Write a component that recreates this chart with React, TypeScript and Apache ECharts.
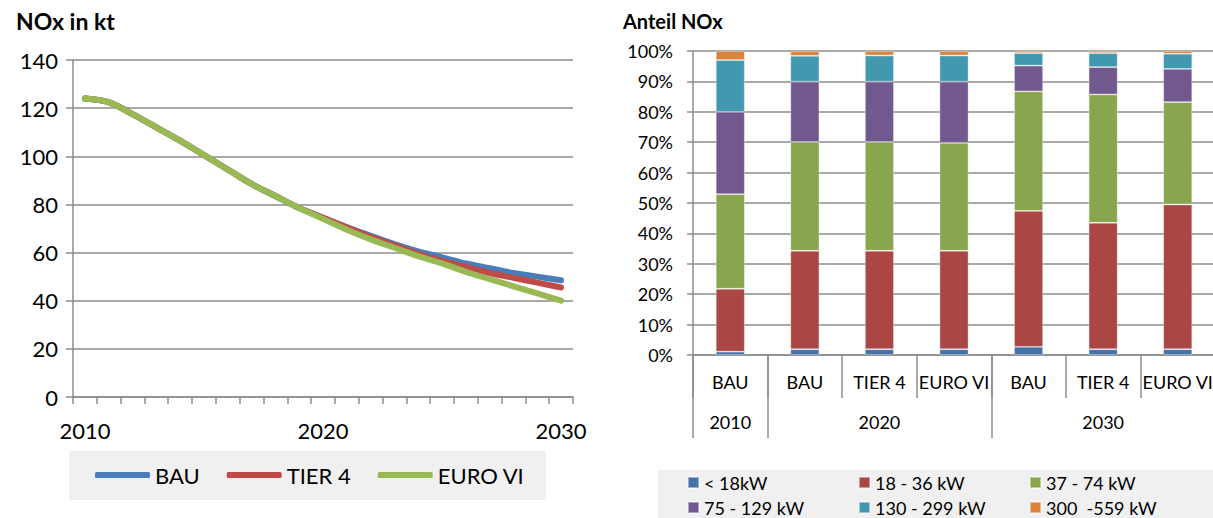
import React, { useEffect, useRef } from "react";
import * as echarts from "echarts";

const years = ["2010","2011","2012","2013","2014","2015","2016","2017","2018","2019","2020","2021","2022","2023","2024","2025","2026","2027","2028","2029","2030"];
const bauValues = [124, 122.5, 117.5, 112, 106.5, 100.5, 94.5, 88.5, 83.5, 78.5, 74.5, 70.5, 67, 63.5, 60.5, 58, 55.5, 53.5, 51.5, 50, 48.5];
const tier4Values = [124, 122.5, 117.5, 112, 106.5, 100.5, 94.5, 88.5, 83.5, 78.5, 74.5, 70.5, 66.5, 63, 59.5, 56.5, 54, 51.5, 49.5, 47.5, 45.5];
const euroValues = [124, 122.5, 117.5, 112, 106.5, 100.5, 94.5, 88.5, 83.5, 78.5, 74, 69.5, 65.5, 62, 58.5, 55.5, 52, 49, 46, 43, 40];
const lineNames = ["BAU", "TIER 4", "EURO VI"];
const lineColors = ["#4a7ebb", "#be4b48", "#98b954"];

const barScenarios = ["BAU", "BAU", "TIER 4", "EURO VI", "BAU", "TIER 4", "EURO VI"];
const barYears = ["2010", "2020", "2020", "2020", "2030", "2030", "2030"];
const classNames = ["< 18kW", "18 - 36 kW", "37 - 74 kW", "75 - 129 kW", "130 - 299 kW", "300  -559 kW"];
const classColors = ["#4572a7", "#aa4643", "#89a54e", "#71588f", "#4198af", "#db843d"];
const share18 = [1.1, 1.9, 1.9, 1.9, 2.7, 1.9, 1.9];
const share36 = [20.7, 32.4, 32.4, 32.4, 44.7, 41.6, 47.6];
const share74 = [31.1, 35.8, 35.8, 35.5, 39.3, 42.2, 33.7];
const share129 = [27.1, 19.8, 19.8, 20.1, 8.5, 9.0, 10.9];
const share299 = [17.0, 8.5, 8.6, 8.6, 4.1, 4.6, 5.0];
const share559 = [3.0, 1.6, 1.5, 1.5, 0.7, 0.7, 0.9];
const shares = [share18, share36, share74, share129, share299, share559];

const FONT = "Lato";
const GRAY = "#8c8c8c";

export default function App() {
  const ref = useRef<HTMLDivElement>(null);
  useEffect(() => {
    if (!ref.current) return;
    const chart = echarts.init(ref.current, undefined, { renderer: "svg" });
    const barKeys = barScenarios.map((s, i) => barYears[i] + "|" + s);
    const groupStart = (i: number) => i === 0 || barYears[i] !== barYears[i - 1];
    const groupMid = (i: number) => {
      const idx = barYears.map((y, k) => (y === barYears[i] ? k : -1)).filter((k) => k >= 0);
      return idx[Math.floor(idx.length / 2)] === i;
    };
    const option: any = {
      animation: false,
      backgroundColor: "#ffffff",
      textStyle: { fontFamily: FONT, color: "#000" },
      title: [
        { text: "NOx in kt", left: 16, top: 9, padding: 0, textStyle: { fontFamily: FONT, fontSize: 23, fontWeight: "bold", color: "#000" } },
        { text: "Anteil NOx", left: 623, top: 11, padding: 0, textStyle: { fontFamily: FONT, fontSize: 20, fontWeight: "bold", color: "#000" } },
      ],
      legend: [
        {
          data: lineNames,
          left: 69,
          top: 451,
          padding: [12, 21, 13, 26],
          backgroundColor: "#f0f0f0",
          icon: "roundRect",
          itemWidth: 55,
          itemHeight: 6,
          itemGap: 27,
          textStyle: { fontFamily: FONT, fontSize: 22, color: "#000", lineHeight: 24 },
        },
        {
          data: classNames,
          left: 658,
          top: 470,
          width: 515,
          padding: [0, 30, 0, 29],
          backgroundColor: "#f0f0f0",
          icon: "rect",
          itemWidth: 11,
          itemHeight: 11,
          itemGap: 0,
          textStyle: { fontFamily: FONT, fontSize: 18, color: "#000", width: 154, lineHeight: 25 },
        },
      ],
      grid: [
        { left: 73, top: 60, width: 500, height: 337, outerBoundsMode: "none", containLabel: false },
        { left: 693, top: 51, width: 522, height: 304, outerBoundsMode: "none", containLabel: false },
      ],
      xAxis: [
        {
          gridIndex: 0,
          type: "category",
          position: "bottom",
          data: years,
          boundaryGap: true,
          axisLine: { lineStyle: { color: GRAY, width: 1.5 } },
          axisTick: { show: true, interval: 0, length: 7, lineStyle: { color: GRAY, width: 1.5 } },
          axisLabel: { interval: (i: number) => i % 10 === 0, fontFamily: FONT, fontSize: 22, color: "#000", margin: 22 },
        },
        {
          gridIndex: 1,
          type: "category",
          position: "bottom",
          data: barKeys,
          boundaryGap: true,
          axisLine: { lineStyle: { color: GRAY, width: 1.5 } },
          axisTick: { show: true, interval: 0, length: 43, lineStyle: { color: GRAY, width: 1.5 } },
          axisLabel: {
            interval: 0,
            fontFamily: FONT,
            fontSize: 18,
            color: "#000",
            margin: 18,
            formatter: (v: string) => v.split("|")[1],
          },
        },
        {
          gridIndex: 1,
          type: "category",
          position: "bottom",
          offset: 0,
          data: barKeys,
          boundaryGap: true,
          axisLine: { show: false },
          axisTick: { show: true, interval: (i: number) => groupStart(i), length: 83, lineStyle: { color: GRAY, width: 1.5 } },
          axisLabel: {
            interval: (i: number) => groupMid(i),
            fontFamily: FONT,
            fontSize: 18,
            color: "#000",
            margin: 58,
            formatter: (v: string) => v.split("|")[0],
          },
          splitLine: { show: false },
        },
      ],
      yAxis: [
        {
          gridIndex: 0,
          type: "value",
          min: 0,
          max: 140,
          interval: 20,
          axisLine: { show: true, lineStyle: { color: GRAY, width: 1.5 } },
          axisTick: { show: true, length: 7, lineStyle: { color: GRAY, width: 1.5 } },
          axisLabel: { fontFamily: FONT, fontSize: 22, color: "#000", margin: 15 },
          splitLine: { show: true, lineStyle: { color: GRAY, width: 1.5 } },
        },
        {
          gridIndex: 1,
          type: "value",
          min: 0,
          max: 100,
          interval: 10,
          axisLine: { show: true, lineStyle: { color: GRAY, width: 1.5 } },
          axisTick: { show: true, length: 6, lineStyle: { color: GRAY, width: 1.5 } },
          axisLabel: { fontFamily: FONT, fontSize: 18, color: "#000", margin: 20, formatter: "{value}%" },
          splitLine: { show: true, lineStyle: { color: GRAY, width: 1.5 } },
        },
      ],
      series: [
        ...[bauValues, tier4Values, euroValues].map((vals, i) => ({
          name: lineNames[i],
          type: "line",
          xAxisIndex: 0,
          yAxisIndex: 0,
          data: vals,
          smooth: 0.3,
          symbol: "none",
          lineStyle: { color: lineColors[i], width: 6, cap: "round" },
          itemStyle: { color: lineColors[i] },
        })),
        ...shares.map((vals, i) => ({
          name: classNames[i],
          type: "bar",
          stack: "share",
          xAxisIndex: 1,
          yAxisIndex: 1,
          data: vals,
          barWidth: 29,
          itemStyle: { color: classColors[i], borderColor: "rgba(255,255,255,0.45)", borderWidth: 0.8 },
        })),
      ],
    };
    chart.setOption(option);
    return () => chart.dispose();
  }, []);
  return (
    <div
      ref={ref}
      style={{ position: "absolute", left: 0, top: 0, width: 1213, height: 518 }}
    />
  );
}
